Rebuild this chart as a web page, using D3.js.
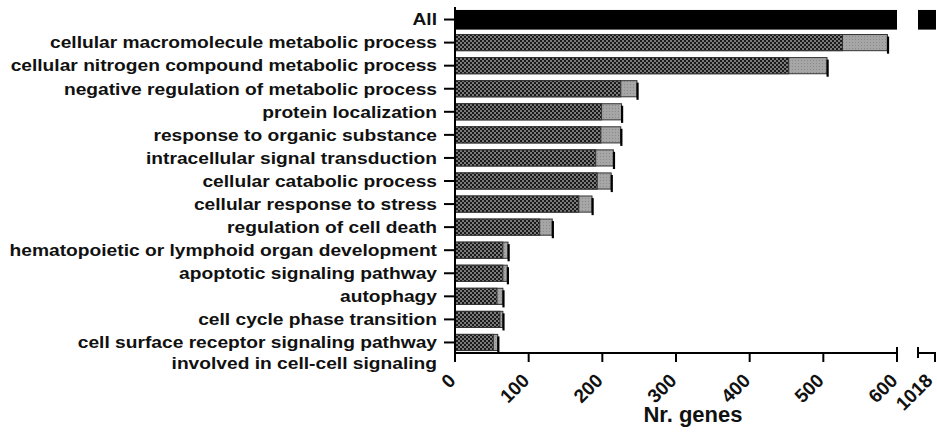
<!DOCTYPE html>
<html>
<head>
  <meta charset="UTF-8">
  <style>
    body { margin: 0; background: #fff; }
    text { font-family: "Liberation Sans", Arial, sans-serif; font-weight: bold; fill: #111; }
  </style>
</head>
<body>
<svg id="chart" width="937" height="434"></svg>
<script src="https://d3js.org/d3.v7.min.js"></script>
<script>
const categories = [
  "All",
  "cellular macromolecule metabolic process",
  "cellular nitrogen compound metabolic process",
  "negative regulation of metabolic process",
  "protein localization",
  "response to organic substance",
  "intracellular signal transduction",
  "cellular catabolic process",
  "cellular response to stress",
  "regulation of cell death",
  "hematopoietic or lymphoid organ development",
  "apoptotic signaling pathway",
  "autophagy",
  "cell cycle phase transition",
  "cell surface receptor signaling pathway|involved in cell-cell signaling"
];
// checkered (dark) part and full length of each bar
const darkValues  = [1018, 526, 453, 225, 199, 198, 191, 193, 168, 115, 65, 65, 57, 61, 52];
const totalValues = [1018, 587, 505, 247, 226, 225, 215, 212, 186, 132, 72, 71, 65, 65, 58];
const ticks1 = [0, 100, 200, 300, 400, 500, 600];
const ticks2 = [1018];

const svg = d3.select("#chart");

// broken x axis: two segments
const x1 = d3.scaleLinear().domain([0, 600]).range([455, 897]);
const x2 = d3.scaleLinear().domain([995, 1018]).range([918, 935]);
const x = v => v <= 600 ? x1(v) : x2(v);

const y = d3.scaleBand()
  .domain(categories)
  .range([8, 354])
  .paddingInner(0.3)
  .paddingOuter(0.15);

const defs = svg.append("defs");
const pd = defs.append("pattern").attr("id", "checker")
  .attr("width", 4).attr("height", 4).attr("patternUnits", "userSpaceOnUse");
pd.append("rect").attr("width", 4).attr("height", 4).attr("fill", "#7a7a7a");
pd.append("rect").attr("width", 2).attr("height", 2).attr("fill", "#1a1a1a");
pd.append("rect").attr("x", 2).attr("y", 2).attr("width", 2).attr("height", 2).attr("fill", "#1a1a1a");

const pl = defs.append("pattern").attr("id", "light")
  .attr("width", 3).attr("height", 3).attr("patternUnits", "userSpaceOnUse");
pl.append("rect").attr("width", 3).attr("height", 3).attr("fill", "#a6a6a6");
pl.append("rect").attr("width", 1).attr("height", 1).attr("fill", "#8a8a8a");

const rows = categories.map((c, i) => ({ c, dark: darkValues[i], total: totalValues[i] }));
const bars = rows.slice(1);

const g = svg.append("g");

// light (full) part
g.selectAll("rect.total").data(bars).join("rect")
  .attr("x", x(0)).attr("y", d => y(d.c))
  .attr("width", d => x(d.total) - x(0))
  .attr("height", y.bandwidth())
  .attr("fill", "url(#light)")
  .attr("stroke", "#333").attr("stroke-width", 1);

// checkered part
g.selectAll("rect.dark").data(bars).join("rect")
  .attr("x", x(0)).attr("y", d => y(d.c))
  .attr("width", d => x(d.dark) - x(0))
  .attr("height", y.bandwidth())
  .attr("fill", "url(#checker)")
  .attr("stroke", "#333").attr("stroke-width", 1);

// dark end cap
g.selectAll("rect.cap").data(bars).join("rect")
  .attr("x", d => x(d.total) - 0.5).attr("y", d => y(d.c) + 2)
  .attr("width", 2.2)
  .attr("height", y.bandwidth() + 1)
  .attr("fill", "#000");

// "All" bar, split over the break
const all = rows[0];
const allY = y(all.c) - 1.5, allH = y.bandwidth() + 3.5;
g.append("rect").attr("x", x1(0)).attr("y", allY)
  .attr("width", x1(600) - x1(0)).attr("height", allH).attr("fill", "#000");
g.append("rect").attr("x", x2(995)).attr("y", allY)
  .attr("width", x2(all.total) - x2(995) + 1).attr("height", allH).attr("fill", "#000");

// y axis
const ax = svg.append("g").attr("stroke", "#000").attr("stroke-width", 2);
ax.append("line").attr("x1", 455).attr("x2", 455).attr("y1", 7).attr("y2", 354);
ax.selectAll("line.yt").data(categories).join("line")
  .attr("x1", 444).attr("x2", 455)
  .attr("y1", d => y(d) + y.bandwidth() / 2).attr("y2", d => y(d) + y.bandwidth() / 2);

// y labels (horizontally stretched like the original)
const lab = svg.append("g");
categories.forEach(c => {
  const parts = c.split("|");
  const cy = y(c) + y.bandwidth() / 2;
  parts.forEach((p, k) => {
    lab.append("text")
      .attr("transform", `translate(437,${cy + k * 21}) scale(1.2,1)`)
      .attr("text-anchor", "end")
      .attr("dy", "0.36em")
      .attr("font-size", 16)
      .text(p);
  });
});

// x axis
const axY = 353;
ax.append("line").attr("x1", 454).attr("x2", x1(600)).attr("y1", axY).attr("y2", axY);
ax.append("line").attr("x1", x2(995)).attr("x2", x2(1018) + 1).attr("y1", axY).attr("y2", axY);
ax.selectAll("line.xt").data(ticks1).join("line")
  .attr("x1", d => x1(d)).attr("x2", d => x1(d))
  .attr("y1", d => d === 600 ? axY - 6 : axY).attr("y2", axY + 9);
ax.append("line").attr("x1", x2(995)).attr("x2", x2(995))
  .attr("y1", axY - 6).attr("y2", axY + 5);
ax.selectAll("line.xt2").data(ticks2).join("line")
  .attr("x1", d => x2(d)).attr("x2", d => x2(d))
  .attr("y1", axY).attr("y2", axY + 9);

const tl = svg.append("g");
ticks1.map(v => [v, x1(v), 0]).concat(ticks2.map(v => [v, x2(v), -3])).forEach(([v, px, sh]) => {
  tl.append("text")
    .attr("transform", `translate(${px - 3 + sh},${axY + 24}) rotate(-45)`)
    .attr("text-anchor", "end")
    .attr("dy", "0.35em")
    .attr("font-size", 19)
    .text(v);
});

svg.append("text")
  .attr("x", 693).attr("y", 422)
  .attr("text-anchor", "middle")
  .attr("font-size", 22)
  .text("Nr. genes");
</script>
</body>
</html>
